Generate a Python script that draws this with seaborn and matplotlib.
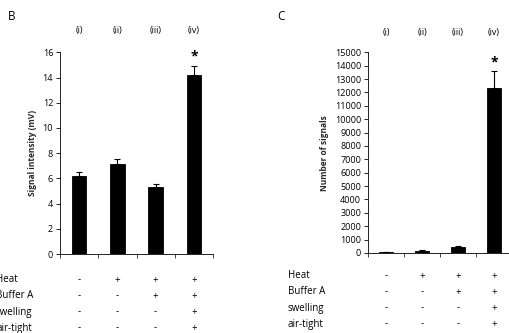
import matplotlib
matplotlib.use("Agg")
import matplotlib.pyplot as plt
import matplotlib.transforms as mtransforms
import seaborn as sns
import pandas as pd

# ---- data ----
groups = ["(i)", "(ii)", "(iii)", "(iv)"]
signal_mV = [6.2, 7.1, 5.3, 14.2]
signal_err = [0.3, 0.45, 0.27, 0.7]
n_signals = [50, 150, 440, 12300]
n_signals_err = [40, 60, 90, 1300]
conditions = ["Heat", "Buffer A", "swelling", "air-tight"]
cond_marks = [
    ["-", "+", "+", "+"],
    ["-", "-", "+", "+"],
    ["-", "-", "-", "+"],
    ["-", "-", "-", "+"],
]

sns.set_theme(style="ticks")
plt.rcParams['font.family'] = ['Open Sans', 'DejaVu Sans']

W, H = 509, 333
fig = plt.figure(figsize=(W / 100, H / 100), dpi=100)

def px_ax(x0, x1, ybot, ytop):
    return fig.add_axes([x0 / W, 1 - ybot / H, (x1 - x0) / W, (ybot - ytop) / H])

def draw_panel(ax, values, errs, ymax, yticks, ylabel, letter, letter_xy,
               roman_y, star_y, rows_x, rows_y):
    df = pd.DataFrame({"group": groups, "value": values})
    sns.barplot(data=df, x="group", y="value", color="black", width=0.38,
                edgecolor="black", linewidth=0.6, ax=ax, errorbar=None, saturation=1)
    ax.errorbar(range(len(groups)), values, yerr=[[0] * len(errs), errs],
                fmt="none", ecolor="black", elinewidth=0.8, capsize=2.2, capthick=0.8)
    ax.set_xlim(-0.5, len(groups) - 0.5)
    ax.set_ylim(0, ymax)
    ax.set_yticks(yticks)
    ax.set_xticks([i - 0.5 for i in range(len(groups) + 1)])
    ax.set_xticklabels([])
    ax.set_xlabel("")
    ax.set_ylabel(ylabel, fontsize=6, fontweight="bold", labelpad=4)
    ax.tick_params(axis="y", labelsize=6.5, length=3, width=0.6, pad=2, colors="black")
    ax.tick_params(axis="x", length=3, width=0.6)
    for s in ["top", "right"]:
        ax.spines[s].set_visible(False)
    for s in ["left", "bottom"]:
        ax.spines[s].set_linewidth(0.6)
        ax.spines[s].set_color("black")
    ax.set_facecolor("none")
    tr = mtransforms.blended_transform_factory(ax.transData, fig.transFigure)
    for i, g in enumerate(groups):
        ax.text(i, 1 - roman_y / H, g, transform=tr, ha="center", va="center",
                fontsize=6.5, color="black", clip_on=False)
    ax.text(len(groups) - 1, 1 - star_y / H, "*", transform=tr, ha="center",
            va="center", fontsize=10, fontweight="bold", color="black", clip_on=False)
    fig.text(letter_xy[0] / W, 1 - letter_xy[1] / H, letter, fontsize=8.5,
             ha="left", va="center", color="black")
    for r, (cond, marks) in enumerate(zip(conditions, cond_marks)):
        yy = 1 - rows_y[r] / H
        fig.text(rows_x / W, yy, cond, fontsize=7, ha="left", va="center", color="black")
        for i, m in enumerate(marks):
            ax.text(i, yy, m, transform=tr, ha="center", va="center",
                    fontsize=7, color="black", clip_on=False)

axL = px_ax(60, 213, 254, 52.3)
draw_panel(axL, signal_mV, signal_err, 16, list(range(0, 17, 2)),
           "Signal intensity (mV)", "B", (8, 16), 30, 56, -4, [280, 296, 312, 328])

axR = px_ax(368, 512, 253, 52.3)
draw_panel(axR, n_signals, n_signals_err, 15000, list(range(0, 15001, 1000)),
           "Number of signals", "C", (277, 16), 32, 62, 288, [276, 292, 308, 324])

fig.savefig("out.png", dpi=100, facecolor="white")
